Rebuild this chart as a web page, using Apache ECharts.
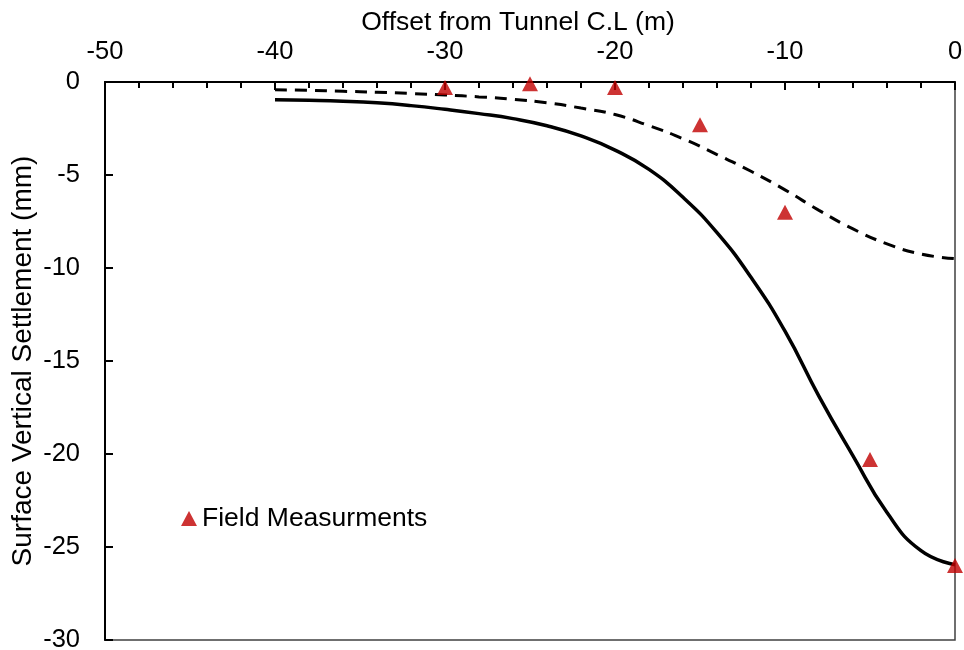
<!DOCTYPE html>
<html>
<head>
<meta charset="utf-8">
<script src="https://cdn.jsdelivr.net/npm/echarts@6/dist/echarts.min.js"></script>
<style>html,body{margin:0;padding:0;background:#fff}#c{width:964px;height:650px}</style>
</head>
<body>
<div id="c"></div>
<script>
// Field measurements
var fieldX = [-30, -25, -20, -15, -10, -5, 0];
var fieldY = [-0.3, -0.1, -0.3, -2.3, -7.0, -20.3, -26.0];
// Solid curve (read every 2 m)
var solidX = [-40, -38, -36, -34, -32, -30, -28, -26, -24, -22, -20, -18, -16, -14, -12, -10, -8, -6, -4, -2, 0];
var solidY = [-0.95, -0.98, -1.03, -1.12, -1.27, -1.47, -1.7, -1.97, -2.35, -2.9, -3.66, -4.7, -6.2, -8.1, -10.5, -13.4, -16.9, -20.1, -23.15, -25.2, -25.95];
// Dashed curve (read every 2 m)
var dashX = [-40, -38, -36, -34, -32, -30, -28, -26, -24, -22, -20, -18, -16, -14, -12, -10, -8, -6, -4, -2, 0];
var dashY = [-0.42, -0.45, -0.5, -0.55, -0.62, -0.7, -0.8, -0.93, -1.12, -1.4, -1.75, -2.35, -3.05, -3.9, -4.8, -5.8, -6.9, -7.9, -8.7, -9.25, -9.5];
// Axis ticks
var xTicks = [-50, -40, -30, -20, -10, 0];
var yTicks = [0, -5, -10, -15, -20, -25, -30];

function zip(a, b) { return a.map(function (v, i) { return [v, b[i]]; }); }

var FONT = 'Liberation Sans, Arial, sans-serif';
var chart = echarts.init(document.getElementById('c'));
chart.setOption({
  backgroundColor: '#fff',
  animation: false,
  grid: { left: 105, top: 82, width: 850, height: 558, show: true, borderColor: '#404040', borderWidth: 1.5,
          backgroundColor: 'transparent', containLabel: false, outerBoundsMode: 'none' },
  legend: {
    show: true, left: 176, top: 500, itemWidth: 16, itemHeight: 15, itemGap: 4,
    textStyle: { fontFamily: FONT, fontSize: 26.5, color: '#000' },
    data: [{ name: 'Field Measurments', icon: 'triangle' }]
  },
  xAxis: {
    type: 'value', position: 'top', min: xTicks[0], max: xTicks[xTicks.length - 1], interval: 10,
    name: 'Offset from Tunnel C.L (m)', nameLocation: 'middle', nameGap: 46, nameMoveOverlap: false,
    nameTextStyle: { fontFamily: FONT, fontSize: 26.5, color: '#000', padding: [0, 24, 0, 0] },
    axisLine: { show: true, onZero: false, lineStyle: { color: '#000', width: 2 } },
    axisTick: { show: true, inside: true, length: 8, lineStyle: { color: '#000', width: 2 } },
    minorTick: { show: true, splitNumber: 5, length: 6, lineStyle: { color: '#000', width: 2 } },
    axisLabel: { fontFamily: FONT, fontSize: 25.5, color: '#000', margin: 17 },
    splitLine: { show: false }
  },
  yAxis: {
    type: 'value', min: yTicks[yTicks.length - 1], max: yTicks[0], interval: 5,
    name: 'Surface Vertical Settlement (mm)', nameLocation: 'middle', nameGap: 68, nameRotate: 90, nameMoveOverlap: false,
    nameTextStyle: { fontFamily: FONT, fontSize: 28, color: '#000' },
    axisLine: { show: true, onZero: false, lineStyle: { color: '#000', width: 2 } },
    axisTick: { show: true, inside: true, length: 8, lineStyle: { color: '#000', width: 2 } },
    axisLabel: { fontFamily: FONT, fontSize: 25.5, color: '#000', margin: 25 },
    splitLine: { show: false }
  },
  series: [
    {
      name: 'Solid', type: 'line', data: zip(solidX, solidY), smooth: 0.5, showSymbol: false, symbol: 'none',
      lineStyle: { color: '#000', width: 3.5 }, z: 2
    },
    {
      name: 'Dashed', type: 'line', data: zip(dashX, dashY), smooth: 0.5, showSymbol: false, symbol: 'none',
      lineStyle: { color: '#000', width: 3, type: [12, 8] }, z: 2
    },
    {
      name: 'Field Measurments', type: 'scatter', data: zip(fieldX, fieldY), symbol: 'triangle', symbolSize: [16, 15],
      itemStyle: { color: '#C00000' }, clip: false, z: 3
    }
  ]
});
</script>
</body>
</html>
